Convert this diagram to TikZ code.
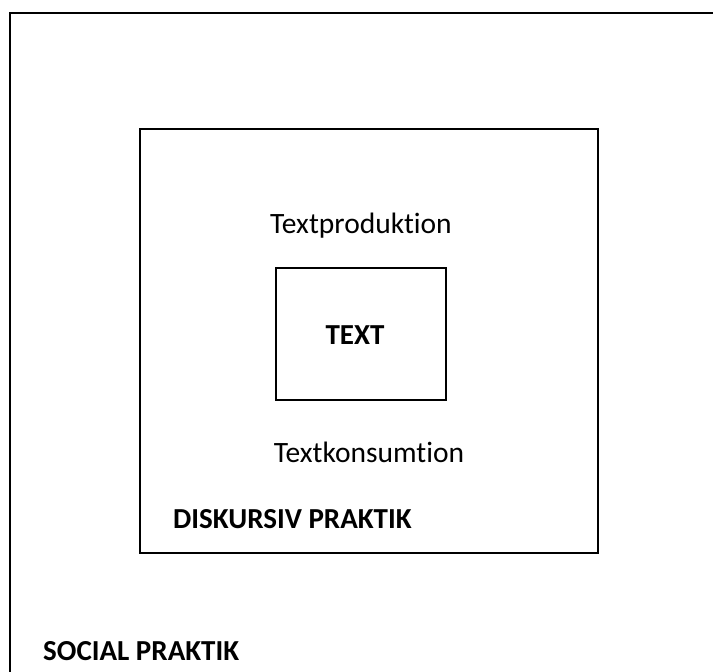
\documentclass[tikz,border=0pt]{standalone}
\usepackage{fontspec}
\setmainfont[RawFeature=-liga]{Carlito}
\begin{document}
\begin{tikzpicture}[x=1pt,y=-1pt,
  frame/.style={draw=black,line width=2.8pt,inner sep=0pt,outer sep=0pt,anchor=north west},
  lbl/.style={inner sep=0pt,font=\fontsize{29.5}{35}\selectfont},
  blbl/.style={lbl,font=\fontsize{29}{35}\selectfont\bfseries}]
\useasboundingbox (0,0) rectangle (713,672);
\begin{scope}
\clip (0,0) rectangle (713,672);
% social practice: outer frame, running past the page edges
\node[frame,minimum width=720pt,minimum height=680pt] (social) at (10,13) {};
\end{scope}
% discursive practice
\node[frame,minimum width=458pt,minimum height=424pt] (diskursiv) at (140,129) {};
% the text itself
\node[frame,minimum width=170pt,minimum height=132pt] (text) at (276,268) {};
\node[lbl,anchor=base] (prod) at (361,233) {Textproduktion};
\node[blbl,anchor=base] (textlbl) at (355,344) {TEXT};
\node[lbl,anchor=base] (kons) at (369,462) {Textkonsumtion};
\node[blbl,anchor=base west] (dlbl) at (173,528) {DISKURSIV PRAKTIK};
\node[blbl,anchor=base west] (slbl) at (43,660) {SOCIAL PRAKTIK};
\end{tikzpicture}
\end{document}
